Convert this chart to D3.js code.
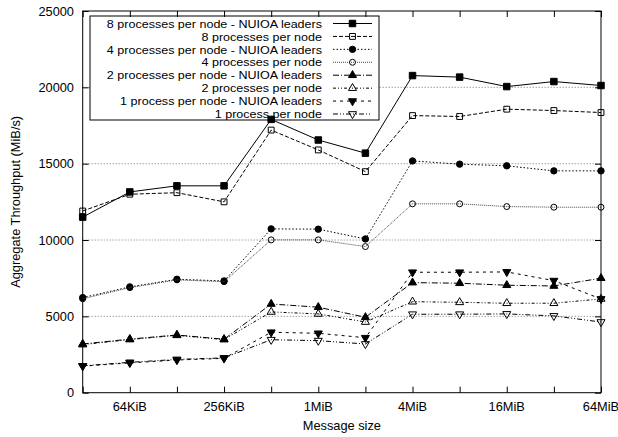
<!DOCTYPE html>
<html>
<head>
<meta charset="utf-8">
<script src="https://cdn.jsdelivr.net/npm/d3@7"></script>
<style>
  html, body { margin: 0; padding: 0; background: #fff; }
  svg { display: block; }
  text { font-family: "Liberation Sans", Arial, Helvetica, sans-serif; fill: #000; }
</style>
</head>
<body>
<svg id="chart" width="618" height="437"></svg>
<script>
// ---- data ----
const sizesKiB = [32, 64, 128, 256, 512, 1024, 2048, 4096, 8192, 16384, 32768, 65536];
const xTickValues = [64, 256, 1024, 4096, 16384, 65536];
const xTickLabels = ["64KiB", "256KiB", "1MiB", "4MiB", "16MiB", "64MiB"];
const yTickValues = [0, 5000, 10000, 15000, 20000, 25000];
const seriesNames = [
  "8 processes per node - NUIOA leaders",
  "8 processes per node",
  "4 processes per node - NUIOA leaders",
  "4 processes per node",
  "2 processes per node - NUIOA leaders",
  "2 processes per node",
  "1 process per node - NUIOA leaders",
  "1 process per node"
];
const p8nuioa = [11500, 13150, 13550, 13550, 17900, 16550, 15690, 20770, 20670, 20050, 20380, 20120];
const p8      = [11900, 13000, 13100, 12500, 17200, 15900, 14480, 18150, 18090, 18570, 18480, 18350];
const p4nuioa = [6230, 6930, 7430, 7320, 10730, 10710, 10070, 15180, 14970, 14860, 14530, 14530];
const p4      = [6150, 6880, 7390, 7270, 10010, 10010, 9570, 12370, 12370, 12190, 12150, 12150];
const p2nuioa = [3190, 3510, 3780, 3500, 5810, 5600, 4940, 7210, 7170, 7040, 6990, 7500];
const p2      = [3150, 3480, 3760, 3480, 5290, 5160, 4630, 5960, 5920, 5860, 5860, 6140];
const p1nuioa = [1740, 1950, 2140, 2250, 3960, 3890, 3600, 7890, 7890, 7910, 7340, 6140];
const p1      = [1760, 1990, 2180, 2280, 3470, 3410, 3190, 5140, 5140, 5160, 5030, 4630];

const seriesValues = [p8nuioa, p8, p4nuioa, p4, p2nuioa, p2, p1nuioa, p1];

// ---- styles ----
const styles = [
  { dash: null,            color: "#000", sym: d3.symbolSquare,   size: 42, fill: true,  rot: 0 },
  { dash: "4,2",           color: "#000", sym: d3.symbolSquare,   size: 34, fill: false, rot: 0 },
  { dash: "1.5,2",         color: "#000", sym: d3.symbolCircle,   size: 32, fill: true,  rot: 0 },
  { dash: "1,1",           color: "#444", sym: d3.symbolCircle,   size: 28, fill: false, rot: 0 },
  { dash: "6,2,1,2",       color: "#000", sym: d3.symbolTriangle, size: 28, fill: true,  rot: 0 },
  { dash: "3,2,1,2,1,2",   color: "#000", sym: d3.symbolTriangle, size: 28, fill: false, rot: 0 },
  { dash: "3,4",           color: "#000", sym: d3.symbolTriangle, size: 28, fill: true,  rot: 180 },
  { dash: "5,2,1,2,1,2",   color: "#000", sym: d3.symbolTriangle, size: 28, fill: false, rot: 180 }
];

const FS = 12.8;
const LFS = 11.4;
const svg = d3.select("#chart");
const L = 82.7, R = 601, T = 11, B = 392.7;

const x = d3.scaleLog().base(2).domain([32, 65536]).range([L, R]);
const y = d3.scaleLinear().domain([0, 25000]).range([B, T]);

// grid lines
svg.append("g").selectAll("line")
  .data(yTickValues.filter(v => v > 0 && v < 25000))
  .join("line")
  .attr("x1", L).attr("x2", R)
  .attr("y1", d => y(d)).attr("y2", d => y(d))
  .attr("stroke", "#555").attr("stroke-width", 0.8)
  .attr("stroke-dasharray", "1,2");

// legend background (clips grid)
const legX0 = 90, legX1 = 379, legY0 = 16, legY1 = 120;
svg.append("rect")
  .attr("x", legX0).attr("y", legY0)
  .attr("width", legX1 - legX0).attr("height", legY1 - legY0)
  .attr("fill", "#fff");

// axes (ticks inward, mirrored)
const tickLen = 6;
const bottomAxis = d3.axisBottom(x).tickValues(sizesKiB).tickSize(-tickLen).tickFormat("");
const topAxis = d3.axisTop(x).tickValues(sizesKiB).tickSize(-tickLen).tickFormat("");
const leftAxis = d3.axisLeft(y).tickValues(yTickValues).tickSize(-tickLen).tickFormat("");
const rightAxis = d3.axisRight(y).tickValues(yTickValues).tickSize(-tickLen).tickFormat("");

function styleAxis(g) {
  g.select(".domain").remove();
  g.selectAll(".tick line").attr("stroke", "#000").attr("stroke-width", 1);
}
svg.append("g").attr("transform", `translate(0,${B})`).call(bottomAxis).call(styleAxis);
svg.append("g").attr("transform", `translate(0,${T})`).call(topAxis).call(styleAxis);
svg.append("g").attr("transform", `translate(${L},0)`).call(leftAxis).call(styleAxis);
svg.append("g").attr("transform", `translate(${R},0)`).call(rightAxis).call(styleAxis);

// tick labels
svg.append("g").selectAll("text")
  .data(xTickValues)
  .join("text")
  .attr("x", d => x(d)).attr("y", B + 18.5)
  .attr("text-anchor", "middle")
  .attr("font-size", FS)
  .text((d, i) => xTickLabels[i]);

svg.append("g").selectAll("text")
  .data(yTickValues)
  .join("text")
  .attr("x", 74).attr("y", d => y(d) + 4.5)
  .attr("text-anchor", "end")
  .attr("font-size", FS)
  .text(d => d);

// axis titles
svg.append("text")
  .attr("x", (L + R) / 2).attr("y", 430)
  .attr("text-anchor", "middle").attr("font-size", FS)
  .text("Message size");
svg.append("text")
  .attr("transform", `translate(20,${(T + B) / 2}) rotate(-90)`)
  .attr("text-anchor", "middle").attr("font-size", FS)
  .text("Aggregate Throughput (MiB/s)");

// series
const line = d3.line().x((d, i) => x(sizesKiB[i])).y(d => y(d));
seriesValues.forEach((vals, si) => {
  const st = styles[si];
  svg.append("path")
    .datum(vals)
    .attr("d", line)
    .attr("fill", "none")
    .attr("stroke", st.color)
    .attr("stroke-width", 1)
    .attr("stroke-dasharray", st.dash);
  const sym = d3.symbol().type(st.sym).size(st.size);
  svg.append("g").selectAll("path")
    .data(vals)
    .join("path")
    .attr("transform", (d, i) => `translate(${x(sizesKiB[i])},${y(d)}) rotate(${st.rot})`)
    .attr("d", sym)
    .attr("fill", st.fill ? "#000" : "none")
    .attr("stroke", "#000")
    .attr("stroke-width", 1);
});

// border
svg.append("rect")
  .attr("x", L).attr("y", T).attr("width", R - L).attr("height", B - T)
  .attr("fill", "none").attr("stroke", "#000").attr("stroke-width", 1);

// legend
svg.append("rect")
  .attr("x", legX0).attr("y", legY0)
  .attr("width", legX1 - legX0).attr("height", legY1 - legY0)
  .attr("fill", "none").attr("stroke", "#000").attr("stroke-width", 1);

const rowY = d3.scaleLinear().domain([0, 7]).range([23.5, 114]);
seriesNames.forEach((name, si) => {
  const st = styles[si];
  const yy = rowY(si);
  svg.append("text")
    .attr("x", 322).attr("y", yy + 4.2)
    .attr("text-anchor", "end").attr("font-size", LFS)
    .attr("transform", `translate(322,0) scale(1.1,1) translate(-322,0)`)
    .text(name);
  svg.append("line")
    .attr("x1", 333).attr("x2", 372).attr("y1", yy).attr("y2", yy)
    .attr("stroke", st.color).attr("stroke-width", 1)
    .attr("stroke-dasharray", st.dash);
  svg.append("path")
    .attr("transform", `translate(352.5,${yy}) rotate(${st.rot})`)
    .attr("d", d3.symbol().type(st.sym).size(st.size))
    .attr("fill", st.fill ? "#000" : "none")
    .attr("stroke", "#000").attr("stroke-width", 1);
});
</script>
</body>
</html>
